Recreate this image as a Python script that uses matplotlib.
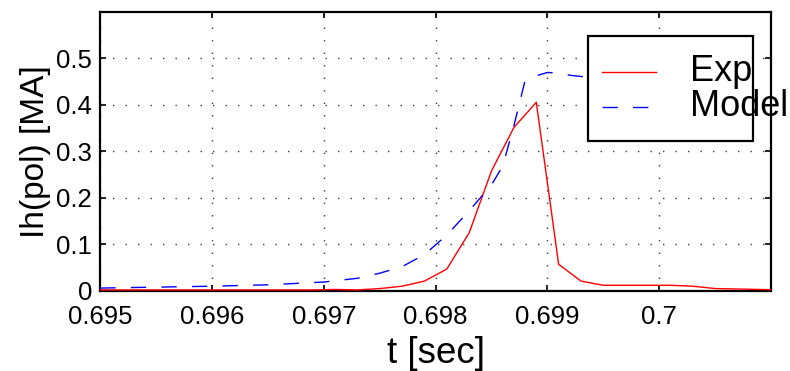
import numpy as np
import matplotlib
matplotlib.use('Agg')
import matplotlib.pyplot as plt
from matplotlib.lines import Line2D
from matplotlib.patches import Rectangle

plt.rcParams['font.family'] = ['Liberation Sans', 'DejaVu Sans']

# measured (Exp) poloidal halo current, sampled every 0.2 ms
t_exp = [0.6949, 0.6951, 0.6953, 0.6955, 0.6957, 0.6959, 0.6961, 0.6963, 0.6965,
         0.6967, 0.6969, 0.6971, 0.6973, 0.6975, 0.6977, 0.6979, 0.6981, 0.6983,
         0.6985, 0.6987, 0.6989, 0.6991, 0.6993, 0.6995, 0.6997, 0.6999, 0.7001,
         0.7003, 0.7005, 0.7007, 0.7009, 0.7011]
ih_exp = [0.002, 0.002, 0.002, 0.002, 0.002, 0.002, 0.002, 0.002, 0.002,
          0.002, 0.002, 0.003, 0.002, 0.005, 0.010, 0.021, 0.047, 0.125,
          0.258, 0.351, 0.405, 0.057, 0.021, 0.012, 0.012, 0.012, 0.012,
          0.010, 0.005, 0.004, 0.003, 0.002]

# model
t_mod = [0.6950, 0.6955, 0.6960, 0.6965, 0.6970, 0.6973, 0.6975, 0.6977, 0.6979,
         0.6981, 0.6983, 0.6985, 0.6986, 0.6987, 0.6988, 0.6989, 0.6990, 0.6991,
         0.6992, 0.6994, 0.6996, 0.6998, 0.7000, 0.7002, 0.7004]
ih_mod = [0.006, 0.008, 0.010, 0.013, 0.019, 0.027, 0.038, 0.052, 0.078,
          0.120, 0.172, 0.228, 0.268, 0.355, 0.452, 0.462, 0.469, 0.468,
          0.463, 0.458, 0.455, 0.452, 0.450, 0.448, 0.446]

xticks = [0.695, 0.696, 0.697, 0.698, 0.699, 0.700]
xticklabels = ['0.695', '0.696', '0.697', '0.698', '0.699', '0.7']
yticks = [0, 0.1, 0.2, 0.3, 0.4, 0.5]
yticklabels = ['0', '0.1', '0.2', '0.3', '0.4', '0.5']

fig = plt.figure(figsize=(7.9, 3.71), dpi=100)
ax = fig.add_axes([0.127, 0.216, 0.849, 0.753])

ax.plot(t_exp, ih_exp, '-', color='#ff0000', lw=1.0, zorder=3)
line_mod, = ax.plot(t_mod, ih_mod, '--', color='#0000ff', lw=1.0, zorder=3)
line_mod.set_dashes((11, 11))

ax.set_xlim(0.695, 0.701)
ax.set_ylim(0, 0.6)
ax.set_xticks(xticks)
ax.set_xticklabels(xticklabels)
ax.set_yticks(yticks)
ax.set_yticklabels(yticklabels)
ax.tick_params(direction='in', length=4, width=1.2, top=True, right=True,
               labelsize=18.5, colors='black')
ax.tick_params(axis='x', pad=10)
ax.tick_params(axis='y', pad=6)
for s in ax.spines.values():
    s.set_linewidth(1.6)

ax.grid(True, color='0.25', linestyle=(0, (1, 8)), linewidth=1.0)

ax.set_xlabel('t [sec]', fontsize=26.5, labelpad=5)
ax.set_ylabel('Ih(pol) [MA]', fontsize=24, labelpad=4)

# legend drawn by hand: the text spills out of the box like the original
ax.add_patch(Rectangle((0.727, 0.536), 0.246, 0.376, transform=ax.transAxes,
                       facecolor='white', edgecolor='black', lw=1.6, zorder=5))
ax.add_line(Line2D([0.7475, 0.828], [0.784, 0.784], transform=ax.transAxes,
                   color='#ff0000', lw=1.0, zorder=6))
leg_mod = Line2D([0.7475, 0.828], [0.659, 0.659], transform=ax.transAxes,
                 color='#0000ff', lw=1.0, linestyle='--', zorder=6)
leg_mod.set_dashes((11, 11))
ax.add_line(leg_mod)
ax.text(0.879, 0.784, 'Exp', transform=ax.transAxes, fontsize=26,
        va='center', ha='left', zorder=7, clip_on=False)
ax.text(0.879, 0.659, 'Model', transform=ax.transAxes, fontsize=26,
        va='center', ha='left', zorder=7, clip_on=False)

fig.savefig('out.png', dpi=100)
